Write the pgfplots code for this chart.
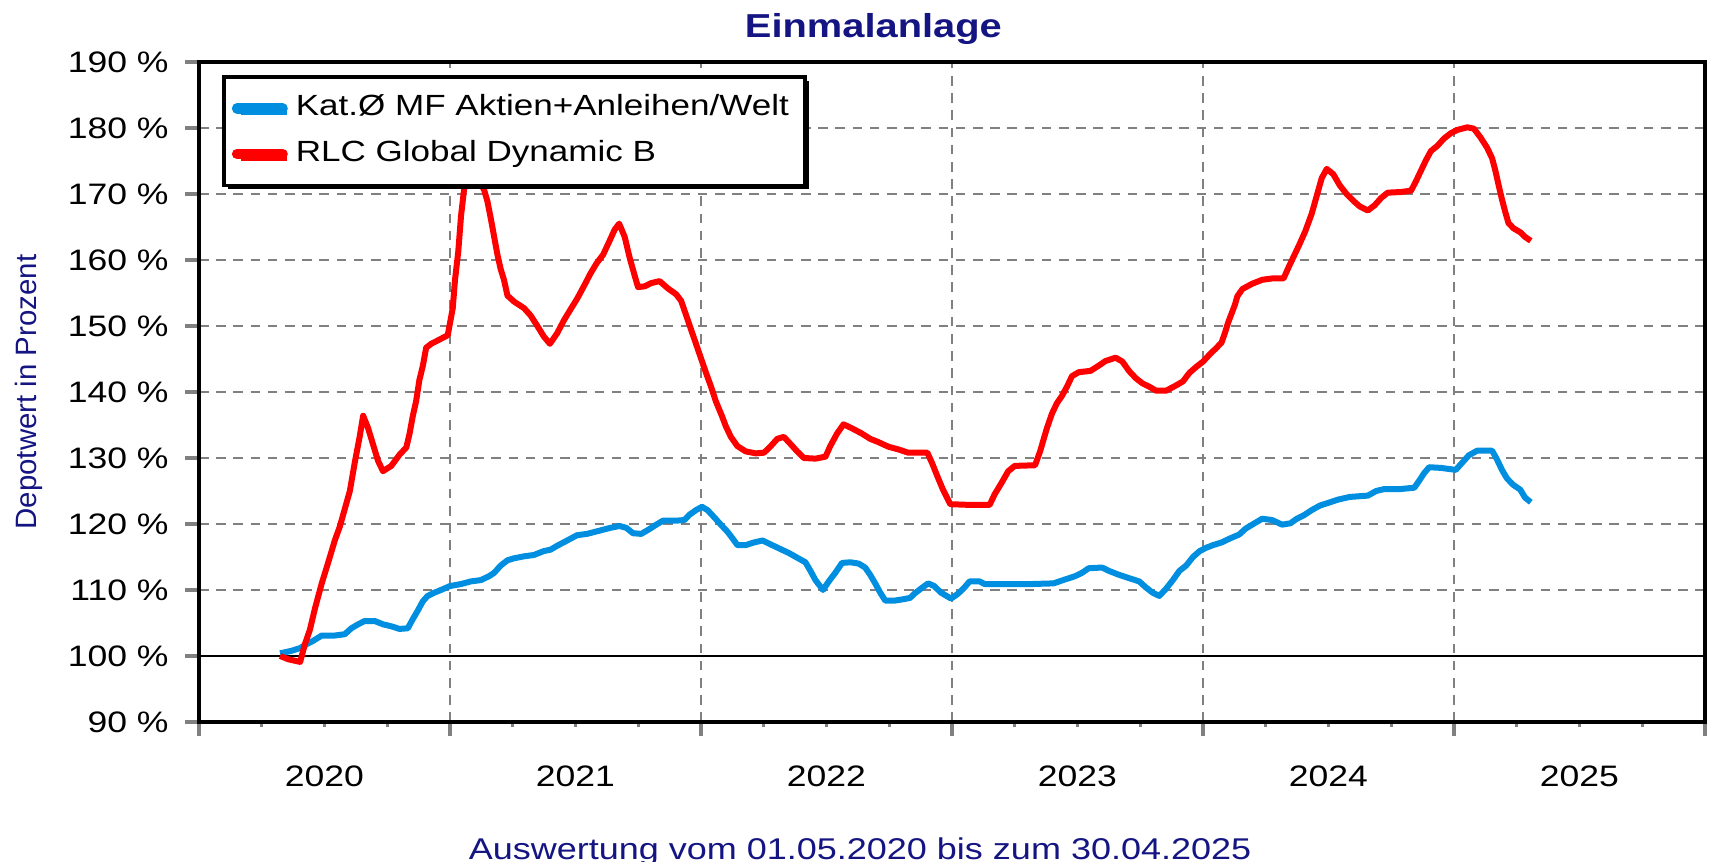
\documentclass[border=0pt]{standalone}
\usepackage{pgfplots}
\pgfplotsset{compat=1.18}
\usepackage{fontspec}
\setmainfont{Liberation Sans}[FakeStretch=1.2]
\newfontfamily\plainsans{Liberation Sans}
\usetikzlibrary{shadows}
\definecolor{katblue}{RGB}{0,143,224}
\definecolor{navytxt}{RGB}{20,20,130}
\definecolor{gridgray}{RGB}{128,128,128}

\begin{document}
\begin{tikzpicture}
\begin{axis}[
    name=ax,
    scale only axis,
    width=376.5pt, height=165pt,
    xmin=2020, xmax=2026, ymin=90, ymax=190,
    axis line style={black, line width=0.8pt},
    tick pos=left,
    tick align=outside,
    xtick={2020,2021,2022,2023,2024,2025,2026},
    xticklabels={},
    minor x tick num=3,
    extra x ticks={2020.5,2021.5,2022.5,2023.5,2024.5,2025.5},
    extra x tick labels={2020,2021,2022,2023,2024,2025},
    extra x tick style={major tick length=0pt, grid=none,
        xticklabel style={yshift=-7.5pt}},
    ytick={90,100,110,120,130,140,150,160,170,180,190},
    yticklabels={90 \%,100 \%,110 \%,120 \%,130 \%,140 \%,150 \%,160 \%,170 \%,180 \%,190 \%},
    yticklabel style={xshift=-0.7pt},
    major tick length=3.4pt, minor tick length=1.3pt,
    every tick/.style={gridgray, line width=0.8pt},
    xmajorgrids, ymajorgrids,
    major grid style={gridgray, line width=0.6pt, dash pattern=on 2.4pt off 1.9pt},
    tick label style={font=\fontsize{7.4}{8}\selectfont, text=black},
    /pgf/number format/assume math mode=true,
    legend style={at={(0.0153,0.9803)}, anchor=north west,
        draw=black, line width=0.9pt, fill=white,
        font=\fontsize{7.3}{8}\selectfont,
        inner xsep=2pt, inner ysep=2.5pt, row sep=0.6pt,
        cells={anchor=west},
        drop shadow={shadow xshift=1pt, shadow yshift=-1pt, fill=black, opacity=1}},
    legend cell align=left,
    legend image code/.code={\draw[line width=2.6pt, line cap=round] (1.3pt,0pt) -- (12.7pt,0pt);},
]

% 100 % reference line
\addplot[black, line width=0.6pt, forget plot] coordinates {(2020,100) (2026,100)};

% Kat. average
\addplot[katblue, line width=1.5pt, line join=round] coordinates {
(2020.323,100.4) (2020.370,100.8) (2020.403,101.2) (2020.429,101.8) (2020.455,102.3)
(2020.489,103.1) (2020.541,103.1) (2020.581,103.3) (2020.607,104.2) (2020.634,104.8)
(2020.660,105.3) (2020.700,105.3) (2020.733,104.8) (2020.766,104.5) (2020.799,104.1)
(2020.832,104.2) (2020.852,105.6) (2020.872,106.9) (2020.892,108.3) (2020.911,109.1)
(2020.938,109.6) (2020.964,110.0) (2021.000,110.6) (2021.044,110.9) (2021.083,111.3)
(2021.123,111.5) (2021.156,112.1) (2021.176,112.6) (2021.202,113.7) (2021.229,114.5)
(2021.255,114.8) (2021.295,115.1) (2021.334,115.3) (2021.374,115.9) (2021.400,116.1)
(2021.427,116.7) (2021.467,117.5) (2021.506,118.3) (2021.546,118.5) (2021.597,119.0)
(2021.637,119.4) (2021.676,119.7) (2021.703,119.4) (2021.729,118.6) (2021.762,118.5)
(2021.789,119.1) (2021.822,119.9) (2021.848,120.5) (2021.901,120.5) (2021.934,120.6)
(2021.954,121.4) (2021.980,122.1) (2022.004,122.6) (2022.026,122.1) (2022.053,121.0)
(2022.079,119.9) (2022.106,118.8) (2022.126,117.8) (2022.145,116.8) (2022.178,116.8)
(2022.211,117.2) (2022.245,117.5) (2022.278,116.9) (2022.311,116.3) (2022.350,115.6)
(2022.383,114.9) (2022.416,114.2) (2022.436,112.9) (2022.456,111.5) (2022.486,110.0)
(2022.509,111.3) (2022.535,112.6) (2022.562,114.1) (2022.595,114.2) (2022.628,114.0)
(2022.654,113.4) (2022.674,112.3) (2022.694,111.0) (2022.714,109.6) (2022.734,108.4)
(2022.773,108.4) (2022.806,108.6) (2022.833,108.8) (2022.849,109.4) (2022.876,110.2)
(2022.905,111.0) (2022.929,110.6) (2022.956,109.6) (2022.996,108.7) (2023.023,109.4)
(2023.050,110.4) (2023.070,111.3) (2023.110,111.3) (2023.130,110.9) (2023.224,110.9)
(2023.317,110.9) (2023.404,111.0) (2023.451,111.6) (2023.491,112.1) (2023.518,112.6)
(2023.545,113.3) (2023.598,113.4) (2023.625,112.9) (2023.665,112.3) (2023.705,111.8)
(2023.746,111.3) (2023.772,110.4) (2023.799,109.6) (2023.826,109.1) (2023.853,110.2)
(2023.880,111.5) (2023.906,112.9) (2023.933,113.7) (2023.960,115.0) (2023.987,115.9)
(2024.013,116.4) (2024.040,116.8) (2024.074,117.2) (2024.107,117.8) (2024.144,118.4)
(2024.170,119.3) (2024.196,119.9) (2024.236,120.8) (2024.275,120.6) (2024.315,119.9)
(2024.348,120.1) (2024.374,120.8) (2024.401,121.3) (2024.433,122.1) (2024.466,122.8)
(2024.499,123.2) (2024.539,123.7) (2024.585,124.1) (2024.657,124.3) (2024.690,125.0)
(2024.723,125.3) (2024.789,125.3) (2024.842,125.5) (2024.862,126.6) (2024.881,127.7)
(2024.901,128.6) (2024.947,128.5) (2025.007,128.2) (2025.033,129.3) (2025.059,130.4)
(2025.092,131.1) (2025.152,131.1) (2025.171,129.8) (2025.191,128.2) (2025.211,126.9)
(2025.237,125.9) (2025.264,125.2) (2025.283,124.0) (2025.306,123.3)
};
\addlegendentry{Kat.Ø MF Aktien+Anleihen/Welt}

% RLC Global Dynamic B
\addplot[red, line width=1.5pt, line join=round] coordinates {
(2020.323,100.0) (2020.356,99.5) (2020.403,99.1) (2020.422,101.8) (2020.442,104.0)
(2020.462,107.2) (2020.489,111.0) (2020.515,114.2) (2020.541,117.5) (2020.561,119.6)
(2020.581,122.3) (2020.601,125.0) (2020.621,129.4) (2020.640,133.2) (2020.654,136.4)
(2020.674,134.5) (2020.693,132.1) (2020.713,129.6) (2020.733,128.0) (2020.766,128.8)
(2020.799,130.5) (2020.826,131.6) (2020.839,133.7) (2020.852,136.4) (2020.865,138.6)
(2020.878,141.8) (2020.892,144.0) (2020.905,146.7) (2020.925,147.3) (2020.951,147.8)
(2020.991,148.6) (2021.011,152.7) (2021.020,157.0) (2021.033,161.3) (2021.044,166.7)
(2021.057,171.0) (2021.095,173.5) (2021.136,170.6) (2021.149,168.9) (2021.163,166.2)
(2021.176,163.5) (2021.189,160.8) (2021.202,158.6) (2021.215,157.0) (2021.229,154.6)
(2021.255,153.7) (2021.295,152.7) (2021.321,151.6) (2021.348,150.0) (2021.374,148.4)
(2021.398,147.3) (2021.427,148.9) (2021.453,150.8) (2021.480,152.5) (2021.506,154.1)
(2021.533,156.0) (2021.559,157.9) (2021.584,159.5) (2021.610,160.8) (2021.637,163.0)
(2021.656,164.6) (2021.674,165.5) (2021.696,163.5) (2021.716,160.3) (2021.736,157.6)
(2021.749,155.9) (2021.775,156.0) (2021.802,156.5) (2021.835,156.8) (2021.868,155.7)
(2021.901,154.8) (2021.921,153.8) (2021.941,151.6) (2021.960,149.5) (2021.980,147.3)
(2022.000,145.1) (2022.020,142.9) (2022.040,140.8) (2022.059,138.6) (2022.083,136.4)
(2022.099,134.8) (2022.119,133.2) (2022.145,131.8) (2022.178,131.0) (2022.218,130.7)
(2022.251,130.8) (2022.278,131.8) (2022.304,132.9) (2022.330,133.2) (2022.357,132.1)
(2022.383,131.0) (2022.410,130.0) (2022.456,129.9) (2022.496,130.2) (2022.515,131.8)
(2022.542,133.7) (2022.568,135.1) (2022.601,134.5) (2022.641,133.7) (2022.674,132.9)
(2022.707,132.4) (2022.747,131.7) (2022.786,131.3) (2022.826,130.8) (2022.902,130.8)
(2022.922,129.1) (2022.942,127.2) (2022.963,125.3) (2022.980,124.0) (2022.993,123.0)
(2023.063,122.9) (2023.150,122.9) (2023.170,124.5) (2023.197,126.2) (2023.224,128.0)
(2023.250,128.8) (2023.331,128.9) (2023.351,131.0) (2023.364,132.7) (2023.378,134.5)
(2023.398,136.7) (2023.418,138.3) (2023.438,139.4) (2023.458,140.8) (2023.478,142.4)
(2023.505,143.0) (2023.552,143.2) (2023.585,144.0) (2023.612,144.7) (2023.652,145.2)
(2023.679,144.6) (2023.705,143.2) (2023.732,142.1) (2023.759,141.3) (2023.786,140.8)
(2023.813,140.2) (2023.853,140.2) (2023.893,141.0) (2023.920,141.6) (2023.946,142.9)
(2023.973,143.8) (2024.000,144.6) (2024.027,145.7) (2024.054,146.7) (2024.074,147.5)
(2024.087,148.9) (2024.100,150.5) (2024.114,151.9) (2024.127,153.2) (2024.137,154.5)
(2024.157,155.6) (2024.196,156.4) (2024.236,157.0) (2024.275,157.2) (2024.321,157.2)
(2024.341,158.9) (2024.361,160.5) (2024.381,162.1) (2024.407,164.3) (2024.433,167.0)
(2024.453,169.7) (2024.473,172.4) (2024.493,173.8) (2024.519,173.0) (2024.545,171.3)
(2024.572,170.0) (2024.598,169.0) (2024.625,168.1) (2024.657,167.5) (2024.684,168.3)
(2024.710,169.4) (2024.736,170.2) (2024.789,170.3) (2024.829,170.5) (2024.848,171.9)
(2024.868,173.5) (2024.888,175.1) (2024.908,176.5) (2024.934,177.3) (2024.960,178.4)
(2024.987,179.2) (2025.013,179.7) (2025.053,180.1) (2025.079,179.9) (2025.105,178.6)
(2025.132,177.0) (2025.152,175.4) (2025.165,173.5) (2025.178,171.3) (2025.191,169.2)
(2025.204,167.3) (2025.217,165.6) (2025.237,164.8) (2025.264,164.2) (2025.283,163.5)
(2025.306,162.9)
};
\addlegendentry{RLC Global Dynamic B}
\end{axis}

% title, y label, footer
\node[anchor=base, font=\bfseries\fontsize{8.3}{10}\selectfont, text=navytxt]
    at ([xshift=168.6pt, yshift=6pt]ax.north west) {Einmalanlage};
\node[rotate=90, anchor=center, font=\plainsans\fontsize{7.36}{9}\selectfont, text=navytxt]
    at ([xshift=-42.5pt]ax.west) {Depotwert in Prozent};
\node[anchor=north, inner sep=0pt, font=\fontsize{7.5}{9}\selectfont, text=navytxt]
    at ([xshift=165.25pt, yshift=-28.75pt]ax.south west) {Auswertung vom 01.05.2020 bis zum 30.04.2025};

\pgfresetboundingbox
\path[use as bounding box] ([shift={(-49.75pt,-35pt)}]ax.south west) rectangle ([shift={(1pt,15.5pt)}]ax.north east);
\end{tikzpicture}
\end{document}
